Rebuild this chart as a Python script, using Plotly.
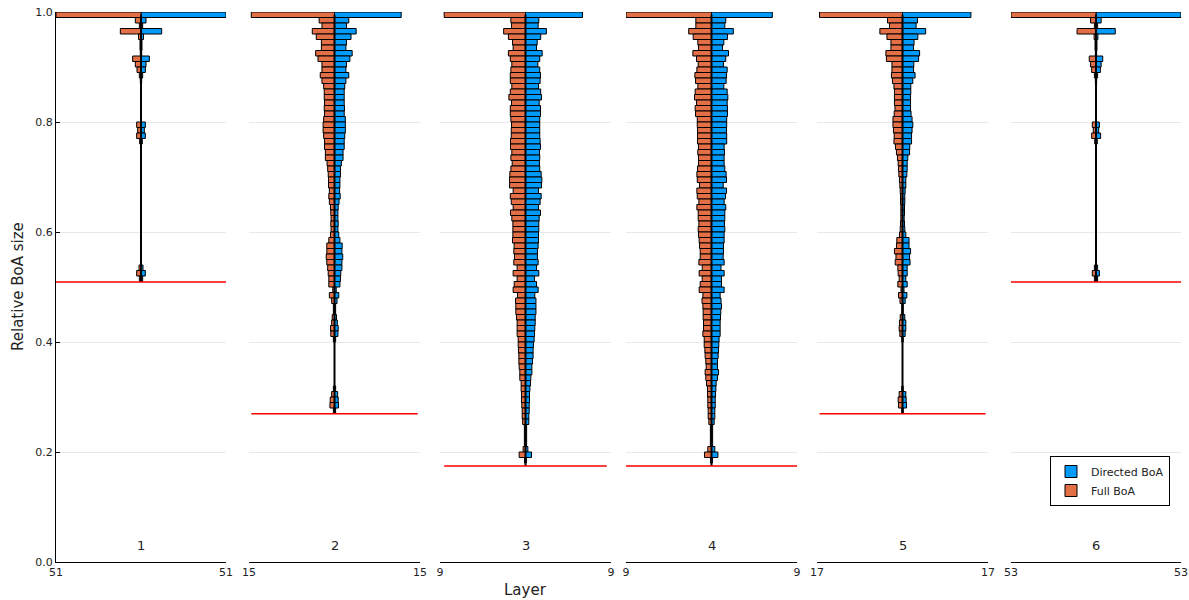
import plotly.graph_objects as go

# ---------------- data ----------------
layers = ["1", "2", "3", "4", "5", "6"]
axis_max = [51, 15, 9, 9, 17, 53]
thresholds = [0.509, 0.2697, 0.1745, 0.1745, 0.2697, 0.509]
bin_width = 0.01
top_edge = 1.0   # bins listed from the top bin (0.99-1.00) downwards

full_1 = [51, 3.4, 1.0, 12.4, 1.5, 0.6, 0.6, 0.4, 5.0, 3.4,
          2.4, 1.0, 0.4, 0, 0, 0, 0, 0, 0, 0,
          2.6, 2.0, 2.6, 0.8, 0, 0, 0, 0, 0, 0,
          0, 0, 0, 0, 0, 0, 0, 0, 0, 0,
          0, 0, 0, 0, 0, 0, 1.2, 2.6, 1.0]
dir_1 = [51, 3.0, 1.0, 12.4, 1.5, 0.6, 0.6, 0.4, 5.0, 3.0,
         2.6, 1.0, 0.4, 0, 0, 0, 0, 0, 0, 0,
         2.6, 2.0, 2.6, 0.8, 0, 0, 0, 0, 0, 0,
         0, 0, 0, 0, 0, 0, 0, 0, 0, 0,
         0, 0, 0, 0, 0, 0, 1.2, 2.6, 1.0]

full_2 = [14.6, 2.7, 2.2, 3.9, 3.2, 2.3, 2.3, 3.3, 2.9, 2.2,
          2.2, 2.5, 2.2, 1.9, 1.8, 1.8, 1.75, 1.8, 1.75, 1.9,
          2.0, 2.0, 1.9, 1.75, 1.75, 1.6, 1.6, 1.3, 1.2, 1.1,
          1.05, 1.05, 0.9, 1.0, 0.9, 0.7, 0.65, 0.6, 0.65, 0.6,
          0.7, 1.0, 1.35, 1.35, 1.45, 1.35, 1.2, 1.1, 1.0, 1.0,
          0.3, 0.9, 0.5, 0.2, 0.2, 0.4, 0.5, 0.7, 0.65, 0.2,
          0, 0, 0, 0, 0, 0, 0, 0, 0.2, 0.5,
          0.75, 0.8, 0.2]
dir_2 = [11.7, 2.5, 2.1, 3.8, 2.9, 2.1, 2.0, 3.1, 2.7, 2.1,
         2.0, 2.5, 2.0, 1.8, 1.7, 1.7, 1.7, 1.75, 1.7, 1.9,
         1.9, 1.9, 1.8, 1.7, 1.7, 1.5, 1.5, 1.2, 1.05, 1.05,
         0.95, 0.95, 0.9, 1.0, 0.8, 0.65, 0.6, 0.6, 0.65, 0.6,
         0.75, 0.95, 1.35, 1.3, 1.45, 1.3, 1.3, 1.1, 1.05, 0.95,
         0.3, 0.75, 0.45, 0.2, 0.2, 0.35, 0.5, 0.65, 0.6, 0.2,
         0, 0, 0, 0, 0, 0, 0, 0, 0.2, 0.55,
         0.65, 0.7, 0.2]

full_3 = [8.56, 1.54, 1.47, 2.3, 1.8, 1.37, 1.3, 1.8, 1.6, 1.44,
          1.54, 1.6, 1.6, 1.44, 1.6, 1.75, 1.47, 1.6, 1.6, 1.54,
          1.47, 1.5, 1.5, 1.58, 1.58, 1.44, 1.54, 1.4, 1.54, 1.65,
          1.68, 1.68, 1.3, 1.6, 1.5, 1.3, 1.58, 1.44, 1.33, 1.33,
          1.33, 1.37, 1.2, 1.23, 1.16, 1.23, 0.88, 1.3, 0.88, 1.19,
          1.3, 0.84, 1.05, 1.02, 1.02, 0.95, 0.88, 0.88, 0.88, 0.77,
          0.77, 0.74, 0.7, 0.7, 0.67, 0.6, 0.6, 0.46, 0.46, 0.42,
          0.42, 0.39, 0.35, 0.35, 0.3, 0.12, 0.12, 0.12, 0.12, 0.25,
          0.67, 0.1]
dir_3 = [6.0, 1.4, 1.33, 2.2, 1.6, 1.23, 1.16, 1.75, 1.5, 1.3,
         1.5, 1.58, 1.54, 1.37, 1.6, 1.68, 1.44, 1.58, 1.58, 1.5,
         1.5, 1.5, 1.5, 1.54, 1.58, 1.47, 1.5, 1.47, 1.5, 1.65,
         1.72, 1.68, 1.37, 1.65, 1.54, 1.37, 1.58, 1.44, 1.4, 1.4,
         1.37, 1.37, 1.33, 1.26, 1.26, 1.33, 1.16, 1.4, 0.95, 1.16,
         1.33, 0.98, 1.1, 1.1, 1.1, 1.02, 1.02, 0.98, 0.95, 0.91,
         0.84, 0.8, 0.8, 0.74, 0.67, 0.67, 0.56, 0.53, 0.46, 0.42,
         0.42, 0.39, 0.39, 0.35, 0.35, 0.12, 0.12, 0.12, 0.12, 0.25,
         0.63, 0.1]

full_4 = [9.0, 1.65, 1.65, 2.4, 1.93, 1.44, 1.37, 1.96, 1.58, 1.4,
          1.54, 1.75, 1.68, 1.44, 1.72, 1.79, 1.58, 1.72, 1.68, 1.5,
          1.5, 1.47, 1.47, 1.47, 1.37, 1.44, 1.37, 1.37, 1.47, 1.54,
          1.5, 1.26, 1.54, 1.5, 1.33, 1.54, 1.4, 1.4, 1.33, 1.4,
          1.37, 1.3, 1.26, 1.19, 1.19, 1.33, 0.98, 1.3, 0.98, 1.19,
          1.3, 0.91, 1.0, 0.91, 0.88, 0.88, 0.84, 0.84, 0.91, 0.77,
          0.77, 0.7, 0.67, 0.6, 0.56, 0.67, 0.6, 0.53, 0.42, 0.42,
          0.39, 0.39, 0.35, 0.35, 0.28, 0.12, 0.12, 0.12, 0.12, 0.39,
          0.74, 0.1]
dir_4 = [6.4, 1.5, 1.4, 2.3, 1.68, 1.3, 1.16, 1.79, 1.5, 1.26,
         1.65, 1.58, 1.54, 1.3, 1.65, 1.72, 1.65, 1.68, 1.68, 1.6,
         1.6, 1.58, 1.6, 1.6, 1.33, 1.37, 1.33, 1.33, 1.4, 1.54,
         1.58, 1.23, 1.58, 1.47, 1.33, 1.5, 1.4, 1.4, 1.37, 1.4,
         1.33, 1.33, 1.26, 1.26, 1.23, 1.33, 1.0, 1.33, 1.05, 1.05,
         1.33, 0.91, 1.0, 1.05, 0.98, 0.95, 0.91, 0.91, 0.91, 0.8,
         0.77, 0.74, 0.7, 0.63, 0.63, 0.74, 0.63, 0.49, 0.46, 0.42,
         0.39, 0.39, 0.35, 0.35, 0.28, 0.12, 0.12, 0.12, 0.12, 0.35,
         0.67, 0.1]

full_5 = [16.5, 2.98, 2.58, 4.5, 3.1, 2.3, 2.3, 3.3, 3.2, 2.1,
          2.1, 2.2, 2.0, 1.7, 1.6, 1.6, 1.6, 1.5, 1.65, 1.9,
          1.9, 1.8, 1.65, 1.7, 1.4, 1.2, 1.0, 0.86, 0.8, 0.73,
          0.6, 0.53, 0.46, 0.4, 0.4, 0.33, 0.33, 0.33, 0.4, 0.46,
          0.6, 1.13, 1.2, 1.6, 1.3, 1.45, 0.93, 0.86, 0.66, 0.93,
          0.3, 0.8, 0.5, 0.15, 0.15, 0.46, 0.6, 0.66, 0.53, 0.15,
          0, 0, 0, 0, 0, 0, 0, 0, 0.15, 0.66,
          0.86, 0.8, 0.15]
dir_5 = [13.6, 2.98, 2.7, 4.6, 3.05, 2.3, 2.2, 3.4, 3.2, 2.25,
         2.2, 2.5, 2.05, 1.65, 1.65, 1.6, 1.6, 1.6, 1.7, 1.9,
         2.05, 1.9, 1.8, 1.8, 1.45, 1.4, 1.05, 0.93, 0.93, 0.86,
         0.66, 0.66, 0.53, 0.46, 0.46, 0.4, 0.4, 0.33, 0.4, 0.46,
         0.66, 1.3, 1.3, 1.6, 1.4, 1.5, 0.93, 0.93, 0.66, 0.93,
         0.3, 0.86, 0.53, 0.15, 0.15, 0.46, 0.66, 0.66, 0.53, 0.15,
         0, 0, 0, 0, 0, 0, 0, 0, 0.15, 0.66,
         0.73, 0.8, 0.15]

full_6 = [53, 3.4, 1.0, 11.8, 1.2, 0.6, 0.6, 0.4, 4.2, 3.4,
          2.7, 1.0, 0.4, 0, 0, 0, 0, 0, 0, 0,
          2.3, 1.7, 2.7, 0.8, 0, 0, 0, 0, 0, 0,
          0, 0, 0, 0, 0, 0, 0, 0, 0, 0,
          0, 0, 0, 0, 0, 0, 1.0, 2.3, 1.0]
dir_6 = [53, 3.2, 1.0, 12.0, 1.2, 0.6, 0.6, 0.4, 4.2, 3.2,
         2.7, 1.0, 0.4, 0, 0, 0, 0, 0, 0, 0,
         2.1, 1.7, 2.9, 0.8, 0, 0, 0, 0, 0, 0,
         0, 0, 0, 0, 0, 0, 0, 0, 0, 0,
         0, 0, 0, 0, 0, 0, 1.0, 2.1, 1.0]

full_all = [full_1, full_2, full_3, full_4, full_5, full_6]
dir_all = [dir_1, dir_2, dir_3, dir_4, dir_5, dir_6]

y_ticks = [0.0, 0.2, 0.4, 0.6, 0.8, 1.0]
y_ticktext = ["0.0", "0.2", "0.4", "0.6", "0.8", "1.0"]

# ---------------- style / layout ----------------
W, H = 1189, 600
BLUE = "#009AFA"
ORANGE = "#E36F47"
GRID = "#e9e9e9"
FONT = "DejaVu Sans"
panel_px = [(56, 226), (249, 420), (440, 611), (626, 797), (817, 988), (1011, 1181)]
plot_top_px, plot_bot_px = 12, 562


def fx(px):
    return px / W


def fy(py):
    return 1 - py / H


ydom = [fy(plot_bot_px), fy(plot_top_px)]

fig = go.Figure()
layout = {}
annotations = []

for k in range(6):
    n = k + 1
    xa = "x" if n == 1 else f"x{n}"
    ya = "y" if n == 1 else f"y{n}"
    full = full_all[k]
    dirv = dir_all[k]
    centers = [top_edge - bin_width * (i + 0.5) for i in range(len(full))]
    thr = thresholds[k]

    # central outline line (zero-width bins)
    fig.add_trace(go.Scatter(x=[0, 0], y=[thr, top_edge - bin_width * 0.5], mode="lines",
                             line=dict(color="black", width=2), showlegend=False,
                             hoverinfo="skip", xaxis=xa, yaxis=ya))
    fig.add_trace(go.Bar(x=dirv, y=centers, orientation="h", width=bin_width,
                         marker=dict(color=BLUE, line=dict(color="black", width=1)),
                         name="Directed BoA", legendgroup="d", showlegend=(n == 1),
                         xaxis=xa, yaxis=ya))
    fig.add_trace(go.Bar(x=[-v for v in full], y=centers, orientation="h", width=bin_width,
                         marker=dict(color=ORANGE, line=dict(color="black", width=1)),
                         name="Full BoA", legendgroup="f", showlegend=(n == 1),
                         xaxis=xa, yaxis=ya))
    fmax = max(full)
    fig.add_trace(go.Scatter(x=[-fmax, fmax], y=[thr, thr], mode="lines",
                             line=dict(color="#ff0000", width=1.5), showlegend=False,
                             hoverinfo="skip", xaxis=xa, yaxis=ya))

    M = axis_max[k]
    layout["xaxis" if n == 1 else f"xaxis{n}"] = dict(
        domain=[fx(panel_px[k][0]), fx(panel_px[k][1])],
        anchor=ya, range=[-M, M], tickvals=[-M, M], ticktext=[str(M), str(M)],
        showgrid=True, gridcolor=GRID, gridwidth=1, zeroline=False,
        showline=True, linecolor="black", linewidth=1,
        ticks="inside", ticklen=4, tickcolor="black", automargin=False,
        ticklabeloverflow="allow",
        tickfont=dict(family=FONT, size=11, color="#222"), fixedrange=True)
    layout["yaxis" if n == 1 else f"yaxis{n}"] = dict(
        domain=ydom, anchor=xa, range=[0, 1], tickvals=y_ticks, ticktext=y_ticktext,
        showticklabels=(n == 1), showgrid=True, gridcolor=GRID, gridwidth=1,
        zeroline=False, showline=(n == 1), linecolor="black", linewidth=1,
        ticks="inside" if n == 1 else "", ticklen=4, tickcolor="black", automargin=False,
        ticklabeloverflow="allow",
        tickfont=dict(family=FONT, size=11, color="#222"), fixedrange=True)
    annotations.append(dict(x=0, y=0.03, xref=xa, yref=ya, text=layers[k], showarrow=False,
                            xanchor="center", yanchor="middle",
                            font=dict(family=FONT, size=13, color="#222")))

annotations.append(dict(x=fx(18), y=fy(287), xref="paper", yref="paper",
                        text="Relative BoA size", textangle=-90, showarrow=False,
                        xanchor="center", yanchor="middle",
                        font=dict(family=FONT, size=15, color="#222")))
annotations.append(dict(x=fx(525), y=fy(590), xref="paper", yref="paper",
                        text="Layer", showarrow=False,
                        xanchor="center", yanchor="middle",
                        font=dict(family=FONT, size=15, color="#222")))

fig.update_layout(
    width=W, height=H, margin=dict(l=0, r=0, t=0, b=0, autoexpand=False),
    paper_bgcolor="white", plot_bgcolor="white",
    barmode="overlay", bargap=0, hovermode=False,
    font=dict(family=FONT, size=11, color="#222"),
    annotations=annotations,
    legend=dict(x=fx(1050), y=fy(456), xanchor="left", yanchor="top",
                bordercolor="black", borderwidth=1, bgcolor="white",
                font=dict(family=FONT, size=11, color="#222"),
                tracegroupgap=0, itemwidth=30),
    **layout)

fig.write_html("out.html", config={"displayModeBar": False, "staticPlot": True},
               post_script="document.body.style.margin='0px';document.body.style.overflow='hidden';")
